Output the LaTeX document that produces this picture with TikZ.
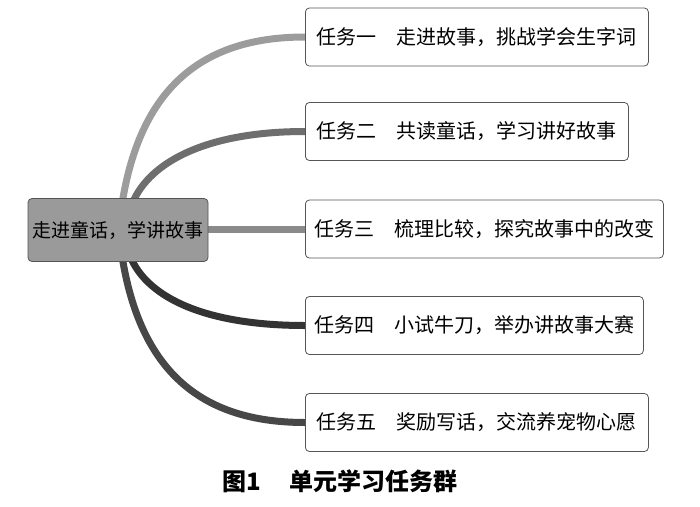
\documentclass[tikz,border=0pt]{standalone}
\usepackage{fontspec}
\newfontfamily\cjk{Noto Sans CJK SC}
\usetikzlibrary{backgrounds}
\definecolor{hubgray}{HTML}{9A9A9A}
\definecolor{edgegray}{HTML}{555555}
\definecolor{branchA}{HTML}{9C9C9C}
\definecolor{branchB}{HTML}{6E6E6E}
\definecolor{branchC}{HTML}{8A8A8A}
\definecolor{branchD}{HTML}{333333}
\definecolor{branchE}{HTML}{474747}

\begin{document}
\begin{tikzpicture}[x=1pt,y=-1pt]
\tikzset{
  hubnode/.style={rectangle,rounded corners=4pt,draw=edgegray,line width=0.8pt,fill=hubgray,minimum width=180pt,minimum height=63pt,inner sep=2pt,font=\cjk\fontsize{19}{22}\selectfont},
  tasknode/.style={rectangle,rounded corners=4pt,draw=edgegray,line width=0.8pt,fill=white,minimum height=58pt,inner xsep=5pt,anchor=west,font=\cjk\fontsize{20}{24}\selectfont},
  branch/.style={line width=7pt,line cap=butt}
}
\useasboundingbox (0,0) rectangle (700,506);
\node[hubnode] (n_hub) at (118,230) {走进童话，学讲故事};
\node[tasknode,minimum width=343pt] (n_task_1) at (305,37) {任务一\hspace{1em}走进故事，挑战学会生字词};
\node[tasknode,minimum width=323pt] (n_task_2) at (305,131.5) {任务二\hspace{1em}共读童话，学习讲好故事};
\node[tasknode,minimum width=358pt] (n_task_3) at (305,229) {任务三\hspace{1em}梳理比较，探究故事中的改变};
\node[tasknode,minimum width=338pt] (n_task_4) at (305,325.5) {任务四\hspace{1em}小试牛刀，举办讲故事大赛};
\node[tasknode,minimum width=343pt] (n_task_5) at (305,422.5) {任务五\hspace{1em}奖励写话，交流养宠物心愿};
\coordinate (n_hub_t1) at (122,204);
\coordinate (n_hub_t2) at (132,204);
\coordinate (n_hub_b4) at (130,256);
\coordinate (n_hub_b5) at (122,256);
\begin{scope}[on background layer]
\draw[branch,branchA] (n_hub_t1) .. controls (140,90) and (200,37) .. (n_task_1.west);
\draw[branch,branchB] (n_hub_t2) .. controls (150,160) and (210,131.5) .. (n_task_2.west);
\draw[branch,branchC] (n_hub.east |- n_task_3.west) -- (n_task_3.west);
\draw[branch,branchD] (n_hub_b4) .. controls (148,300) and (210,325.5) .. (n_task_4.west);
\draw[branch,branchE] (n_hub_b5) .. controls (140,370) and (200,422.5) .. (n_task_5.west);
\end{scope}
\node[font=\cjk\bfseries\fontsize{24}{28}\selectfont] (n_caption) at (340,481) {图1\hspace{1.2em}单元学习任务群};
\end{tikzpicture}
\end{document}
